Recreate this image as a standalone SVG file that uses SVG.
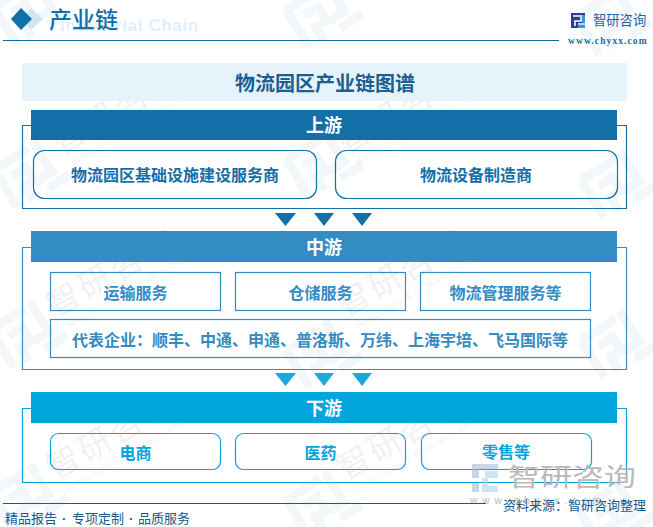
<svg xmlns="http://www.w3.org/2000/svg" width="653" height="527" viewBox="0 0 653 527">
<style>
text{font-family:"Noto Sans CJK SC","Liberation Sans",sans-serif}
.wm{fill:#000;opacity:.05;font-size:33px}
.wme{fill:#000;opacity:.05;font-size:8px;font-family:"Liberation Sans",sans-serif;letter-spacing:.5px}
.wl{fill:none;stroke:#6f9cc0;stroke-width:9;opacity:.08}
.frame{fill:none;stroke-width:1.2}
.t{text-anchor:middle;font-weight:700}
.hd{fill:#fff;font-size:18px;text-anchor:middle;font-weight:700}
.box{fill:none;stroke-width:1.2}
.up{stroke:#126fa8}.upf{fill:#126fa8}
.mid{stroke:#338cc4}.midf{fill:#338cc4}
.low{stroke:#00a5de}.lowf{fill:#00a5de}
.dot{font-family:"Liberation Sans",sans-serif;font-weight:700}
</style>
<defs>
<g id="mark"><path class="wl" d="M-26 -22H14M-26 -22V22M-14 -8H2V8H-10V24M22 -26V10H4M10 22H36"/></g>
<g id="wtext"><text class="wm" x="0" y="0" letter-spacing="3">智研咨询</text><text class="wme" x="6" y="16">INTELLIGENCE RESEARCH GROUP</text></g>
</defs>
<rect width="653" height="527" fill="#fff"/>
<g id="watermarks">
<use href="#mark" transform="translate(28,12) rotate(-32)"/><use href="#mark" transform="translate(320,15) rotate(-32)"/><use href="#mark" transform="translate(610,22) rotate(-32)"/>
<use href="#mark" transform="translate(28,175) rotate(-32)"/><use href="#mark" transform="translate(320,165) rotate(-32)"/><use href="#mark" transform="translate(615,185) rotate(-32)"/>
<use href="#mark" transform="translate(25,335) rotate(-32)"/><use href="#mark" transform="translate(320,355) rotate(-32)"/><use href="#mark" transform="translate(615,345) rotate(-32)"/>
<use href="#mark" transform="translate(25,498) rotate(-32)"/><use href="#mark" transform="translate(320,505) rotate(-32)"/><use href="#mark" transform="translate(612,515) rotate(-32)"/>
<use href="#wtext" transform="translate(55,481) rotate(-30)"/>
<use href="#wtext" transform="translate(345,481) rotate(-30)"/>
<use href="#wtext" transform="translate(55,318) rotate(-30)"/>
<use href="#wtext" transform="translate(345,318) rotate(-30)"/>
<use href="#wtext" transform="translate(60,155) rotate(-30)"/>
<use href="#wtext" transform="translate(345,155) rotate(-30)"/>
</g>
<g id="header">
<path d="M31 8 L43 19 L31 30 L20 19Z" fill="#d2e5f2"/>
<path d="M21 8 L32 19 L21 30 L11 19Z" fill="#126fa8"/>
<text x="60" y="31" font-size="17" font-weight="700" fill="#e1f0fa" style="font-family:'Liberation Sans',sans-serif" letter-spacing=".65">Industrial Chain</text>
<text x="49" y="28" font-size="23" font-weight="500" fill="#126fa8">产业链</text>
<line x1="3" y1="40.500" x2="559" y2="40.500" stroke="#10689f" stroke-width="1.2"/>
<g id="logo">
<path d="M571 13h14v15h-14z" fill="#2a3f8f"/>
<path d="M573 16h7M581 15v6h-6v5M578 24h7" fill="none" stroke="#fff" stroke-width="1.6"/>
<path d="M578 25h7v3h-7z M582 15h3v8h-3z" fill="#2f9bdc"/>
</g>
<text x="593" y="25" font-size="13.300" fill="#1c63a0">智研咨询</text>
<text x="568" y="44" font-size="9.500" font-weight="700" fill="#2b6a94" style="font-family:'Liberation Serif',serif" letter-spacing="1.1">www.chyxx.com</text>
</g>
<g id="title">
<rect x="22" y="63" width="605" height="38" fill="#e6f3fb"/>
<text class="t" x="325" y="91" font-size="20" fill="#1a5f8f">物流园区产业链图谱</text>
</g>
<g id="connectors">
<path class="frame up" d="M31 125.500H22.500V208.500H626.500V125.500H617"/>
<path class="frame mid" d="M31 247.500H22.500V369.500H626.500V247.500H617"/>
<path class="frame low" d="M31 408.500H22.500V482.500H626.500V408.500H617"/>
<path class="upf" d="M275 213h21l-10.500 13zM314 213h20l-10 13zM352 213h20l-10 13z"/>
<path fill="#1ca8df" d="M275 373h21l-10.500 13zM314 373h20l-10 13zM352 373h20l-10 13z"/>
</g>
<g id="upstream-header"><rect class="upf" x="31" y="110" width="586" height="30"/><text class="hd" x="324" y="132">上游</text></g>
<g id="up-1"><rect class="box up" x="33.500" y="150.500" width="283" height="48" rx="11"/><text class="t upf" x="175" y="181" font-size="16">物流园区基础设施建设服务商</text></g>
<g id="up-2"><rect class="box up" x="335.500" y="150.500" width="282" height="48" rx="11"/><text class="t upf" x="476" y="181" font-size="16">物流设备制造商</text></g>
<g id="midstream-header"><rect class="midf" x="31" y="231" width="586" height="31"/><text class="hd" x="324" y="254">中游</text></g>
<g id="mid-1"><rect class="box mid" x="50.500" y="272.500" width="170" height="38"/><text class="t midf" x="135.500" y="299" font-size="16">运输服务</text></g>
<g id="mid-2"><rect class="box mid" x="235.500" y="272.500" width="170" height="38"/><text class="t midf" x="320.500" y="299" font-size="16">仓储服务</text></g>
<g id="mid-3"><rect class="box mid" x="420.500" y="272.500" width="170" height="38"/><text class="t midf" x="505.500" y="299" font-size="16">物流管理服务等</text></g>
<g id="mid-4"><rect class="box mid" x="50.500" y="319.500" width="540" height="38"/><text class="t midf" x="320" y="346" font-size="16">代表企业：顺丰、中通、申通、普洛斯、万纬、上海宇培、飞马国际等</text></g>
<g id="downstream-header"><rect class="lowf" x="31" y="392" width="586" height="31"/><text class="hd" x="324" y="415">下游</text></g>
<g id="low-1"><rect class="box low" x="50.500" y="433.500" width="170" height="36" rx="8"/><text class="t lowf" x="135.500" y="459" font-size="16">电商</text></g>
<g id="low-2"><rect class="box low" x="235.500" y="433.500" width="170" height="36" rx="8"/><text class="t lowf" x="320.500" y="459" font-size="16">医药</text></g>
<g id="low-3"><rect class="box low" x="421.500" y="433.500" width="170" height="36" rx="8"/><text class="t lowf" x="506" y="458" font-size="16">零售等</text></g>
<g id="footer">
<g opacity=".55">
<path d="M472 464h26v5h-26z M472 464h7v14h-7z M472 483h7v9h-7z" fill="#9db5d6"/>
<path d="M485 471h13v7h-13z M482 478h6v14h-6z M488 486h10v6h-10z" fill="#a4d0ee"/>
</g>
<text transform="translate(508,486) scale(1,.78)" font-size="32" fill="#b9b9b9">智研咨询</text>
<text x="470" y="504" font-size="10" fill="#b9b9b9" letter-spacing="5" style="font-family:'Liberation Sans',sans-serif">www.chyxx.com</text>
<line x1="3" y1="503.500" x2="486" y2="503.500" stroke="#125b8c" stroke-width="1.2"/>
<text y="523" font-size="13" fill="#125b8c"><tspan x="5">精品报告</tspan><tspan class="dot" x="62">·</tspan><tspan x="72">专项定制</tspan><tspan class="dot" x="129">·</tspan><tspan x="138">品质服务</tspan></text>
<text x="503" y="510" font-size="13" fill="#125b8c">资料来源：智研咨询整理</text>
</g>
</svg>
